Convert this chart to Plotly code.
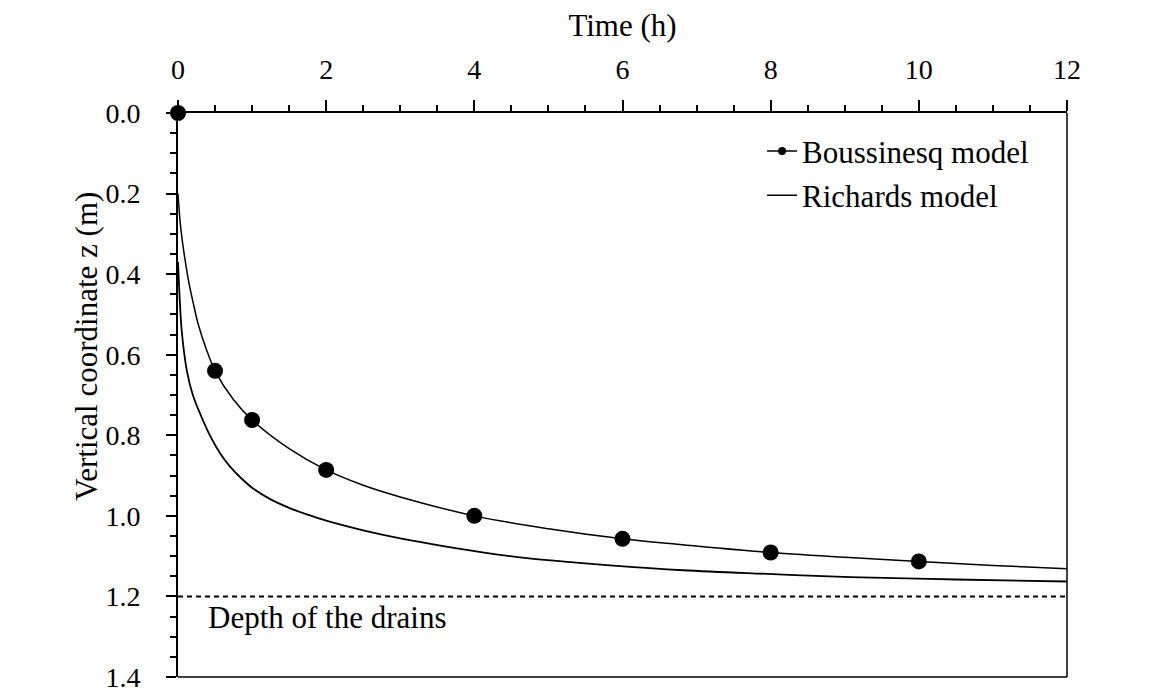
import plotly.graph_objects as go

# ---- data ----
bous_t = [0, 0.5, 1, 2, 4, 6, 8, 10]
bous_z = [0.0, 0.64, 0.762, 0.886, 1.0, 1.057, 1.091, 1.113]

bous_curve_t = [0, 0.04, 0.14, 0.2, 0.274, 0.38, 0.5, 0.75, 1.0, 1.5, 2.0, 2.5, 3.0, 4.0, 5.0, 6.0, 7.0, 8.0, 9.0, 10.0, 11.0, 12.0]
bous_curve_z = [0.2, 0.29, 0.414, 0.467, 0.525, 0.585, 0.64, 0.712, 0.762, 0.833, 0.886, 0.924, 0.953, 1.0, 1.032, 1.057, 1.075, 1.091, 1.103, 1.113, 1.123, 1.131]

rich_t = [0, 0.01, 0.05, 0.12, 0.2, 0.34, 0.45, 0.57, 0.7, 0.85, 1.0, 1.25, 1.5, 1.75, 2.0, 2.5, 3.0, 3.58, 4.2, 4.71, 5.3, 5.83, 6.82, 7.95, 9.07, 10.5, 12.0]
rich_z = [0.37, 0.41, 0.54, 0.64, 0.70, 0.764, 0.807, 0.845, 0.877, 0.906, 0.930, 0.959, 0.980, 0.997, 1.012, 1.036, 1.056, 1.075, 1.093, 1.105, 1.115, 1.123, 1.135, 1.144, 1.152, 1.158, 1.163]

drain_depth = 1.2
drain_label = "Depth of the drains"

x_ticks = [0, 2, 4, 6, 8, 10, 12]
y_ticks = [0.0, 0.2, 0.4, 0.6, 0.8, 1.0, 1.2, 1.4]

FONT = "Liberation Serif"
FS = 28      # tick labels
FT = 31      # titles, legend, annotation

fig = go.Figure()

fig.add_trace(go.Scatter(x=bous_curve_t, y=bous_curve_z, mode="lines",
                         line=dict(color="black", width=1.5, shape="spline", smoothing=1.0),
                         showlegend=False, hoverinfo="skip"))
fig.add_trace(go.Scatter(x=rich_t, y=rich_z, mode="lines",
                         line=dict(color="black", width=1.8, shape="spline", smoothing=1.0),
                         showlegend=False))
fig.add_trace(go.Scatter(x=bous_t, y=bous_z, mode="markers",
                         marker=dict(color="black", size=16),
                         cliponaxis=False, showlegend=False))
# legend entries
fig.add_trace(go.Scatter(x=[None], y=[None], mode="lines+markers",
                         line=dict(color="black", width=1.5),
                         marker=dict(color="black", size=8),
                         name="Boussinesq model", legendgroup="a"))
fig.add_trace(go.Scatter(x=[None], y=[None], mode="lines",
                         line=dict(color="black", width=1.5),
                         name="Richards model", legendgroup="b"))

# drains line
fig.add_shape(type="line", xref="x", yref="y", x0=0, x1=12, y0=drain_depth, y1=drain_depth,
              line=dict(color="black", width=2, dash="5px,4px"))
# right and bottom frame
fig.add_shape(type="line", xref="paper", yref="paper", x0=1, x1=1, y0=0, y1=1,
              line=dict(color="black", width=1.5))
fig.add_shape(type="line", xref="paper", yref="paper", x0=0, x1=1, y0=0, y1=0,
              line=dict(color="black", width=1.5))

fig.add_annotation(x=0.38, y=drain_depth, xref="x", yref="y", text=drain_label,
                   showarrow=False, xanchor="left", yanchor="top", yshift=-2,
                   font=dict(family=FONT, size=FT, color="black"))
fig.add_annotation(x=0, y=0.58, xref="paper", yref="y", xanchor="center", yanchor="middle",
                   xshift=-91, text="Vertical coordinate z (m)", showarrow=False, textangle=-90,
                   font=dict(family=FONT, size=FT, color="black"))

fig.update_layout(
    width=1151, height=691,
    margin=dict(l=170, r=92, t=105, b=22),
    paper_bgcolor="white", plot_bgcolor="white",
    font=dict(family=FONT, size=FS, color="black"),
    legend=dict(x=0.657, y=0.98, xanchor="left", yanchor="top",
                bgcolor="rgba(0,0,0,0)", font=dict(family=FONT, size=FT),
                itemwidth=30, tracegroupgap=1),
    xaxis=dict(side="top", range=[0, 12], tickvals=x_ticks, ticks="outside", ticklen=11,
               tickwidth=2, tickcolor="black", showline=True, linewidth=2, linecolor="black",
               showgrid=False, zeroline=False, ticklabelstandoff=10, automargin=False,
               minor=dict(dtick=0.5, ticks="outside", ticklen=6, tickwidth=1.5, tickcolor="black"),
               title=dict(text="Time (h)", standoff=16, font=dict(family=FONT, size=FT))),
    yaxis=dict(range=[1.4, 0], tickvals=y_ticks, tickformat=".1f", ticks="outside", ticklen=10,
               tickwidth=2, tickcolor="black", showline=True, linewidth=2, linecolor="black",
               showgrid=False, zeroline=False, ticklabelstandoff=20, automargin=False,
               minor=dict(dtick=0.05, ticks="outside", ticklen=6, tickwidth=1.5, tickcolor="black"),
               title=dict(text="")),
)

fig.write_html("out.html")
